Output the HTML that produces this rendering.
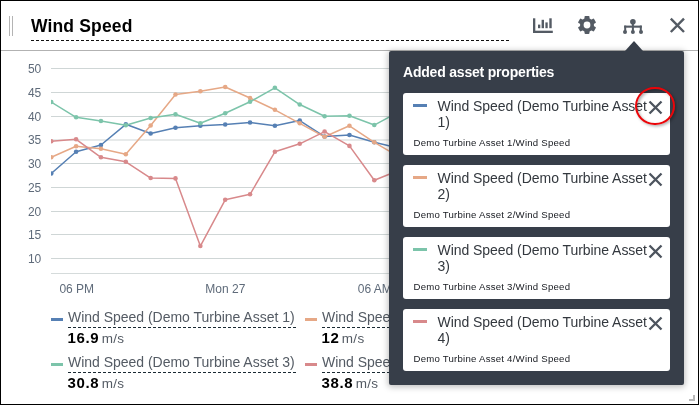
<!DOCTYPE html>
<html><head><meta charset="utf-8"><title>Wind Speed</title>
<style>
html,body{margin:0;padding:0;}
body{width:699px;height:405px;position:relative;overflow:hidden;background:#fff;font-family:"Liberation Sans",sans-serif;}
.frame{position:absolute;left:0;top:0;width:697px;height:403px;border:1px solid #000;z-index:50;pointer-events:none}
.grip{position:absolute;left:9px;top:16px;width:2px;height:20px;border-left:1px solid #b4b4b4;border-right:1px solid #b4b4b4}
.title{position:absolute;left:31px;top:13px;width:478px;height:27px;border-bottom:1px dashed #000;font-weight:bold;font-size:17.5px;line-height:27px;color:#000;letter-spacing:0.15px;white-space:nowrap}
.dash{position:absolute;left:31px;top:40px;width:478px;height:1px;background:repeating-linear-gradient(90deg,#111 0 3px,transparent 3px 5px)}
.hr{position:absolute;left:1px;top:50px;width:697px;height:1px;background:#b2b2b2}
.chart{position:absolute;left:0;top:0}
.ax{font-family:"Liberation Sans",sans-serif;font-size:12px;fill:#5f6b7a}
.ico{position:absolute}
.lg{position:absolute;white-space:nowrap;color:#545b64;font-size:14px;line-height:20px}
.lg i{position:absolute;left:0;top:10.5px;width:12px;height:3px}
.lg .ll{position:absolute;left:17px;top:-0.5px;height:20px;letter-spacing:-0.02px}
.lg .ll:after{content:"";position:absolute;left:0;right:-1px;top:20.5px;height:1px;background:repeating-linear-gradient(90deg,#1a2a33 0 3px,transparent 3px 5px)}
.lg .lv{position:absolute;left:16.4px;top:20.5px;height:20px;line-height:20px}
.lg .lv b{font-size:15px;color:#000;letter-spacing:0.7px}
.lg .lv span{font-size:13.5px;color:#545b64;letter-spacing:0.3px;margin-left:-1.6px}
.panel{position:absolute;left:389px;top:51px;width:295px;height:334px;background:#373e49;border-radius:2px;box-shadow:0 1px 6px 1px rgba(0,0,0,.26)}
.panel:before{content:"";position:absolute;left:236px;top:-10px;border-left:9px solid transparent;border-right:9px solid transparent;border-bottom:10px solid #373e49}
.ph{position:absolute;left:14px;top:12px;color:#fff;font-weight:bold;font-size:14px;line-height:18px;letter-spacing:-0.2px;white-space:nowrap}
.card{position:absolute;left:14px;width:267px;height:62px;background:#fff;border-radius:3px}
.card i{position:absolute;left:10px;top:11px;width:14px;height:3px}
.ct{position:absolute;left:34.5px;top:5px;width:215px;font-size:14px;line-height:16px;color:#33383e;letter-spacing:-0.05px}
.cs{position:absolute;left:10.5px;top:44px;font-size:9.6px;line-height:12px;color:#16191f;white-space:nowrap;letter-spacing:0.24px}
.cx{position:absolute;left:245px;top:6.5px}
.ring{position:absolute;left:635.1px;top:86.7px;width:35.6px;height:34.6px;border:2.3px solid #ea0408;border-radius:50%;box-shadow:1.5px 1.5px 3px rgba(0,0,0,.3),inset 1.5px 1.5px 3px rgba(0,0,0,.3)}
.rs{position:absolute;left:689px;top:395px;width:4px;height:4px;border-right:2px solid #b9b9b9;border-bottom:2px solid #b9b9b9}
</style></head><body>
<div class="grip"></div>
<div class="title" style="border:0">Wind Speed</div><div class="dash"></div>
<div class="hr"></div>
<svg class="chart" width="699" height="405" viewBox="0 0 699 405">
<rect x="51" y="68.00" width="633" height="1" fill="#cfd6d6"/>
<rect x="51" y="92.00" width="633" height="1" fill="#cfd6d6"/>
<rect x="51" y="116.00" width="633" height="1" fill="#cfd6d6"/>
<rect x="51" y="139.50" width="633" height="1" fill="#cfd6d6"/>
<rect x="51" y="163.00" width="633" height="1" fill="#cfd6d6"/>
<rect x="51" y="187.00" width="633" height="1" fill="#cfd6d6"/>
<rect x="51" y="211.00" width="633" height="1" fill="#cfd6d6"/>
<rect x="51" y="234.00" width="633" height="1" fill="#cfd6d6"/>
<rect x="51" y="258.00" width="633" height="1" fill="#cfd6d6"/>
<rect x="51" y="273" width="633" height="1" fill="#d5dbdb"/>
<clipPath id="cp"><rect x="51" y="55" width="640" height="218"/></clipPath><g clip-path="url(#cp)">
<polyline points="51.25,173.55 76.10,151.70 100.95,145.00 125.80,124.30 150.65,133.55 175.50,127.80 200.35,125.80 225.20,124.55 250.05,122.55 274.90,125.80 299.75,120.55 324.60,136.55 349.45,135.05 374.30,142.30 399.15,148.30" fill="none" stroke="#5680b4" stroke-width="1.5" stroke-linejoin="round"/>
<circle cx="51.25" cy="173.55" r="2.3" fill="#5680b4"/><circle cx="76.10" cy="151.70" r="2.3" fill="#5680b4"/><circle cx="100.95" cy="145.00" r="2.3" fill="#5680b4"/><circle cx="125.80" cy="124.30" r="2.3" fill="#5680b4"/><circle cx="150.65" cy="133.55" r="2.3" fill="#5680b4"/><circle cx="175.50" cy="127.80" r="2.3" fill="#5680b4"/><circle cx="200.35" cy="125.80" r="2.3" fill="#5680b4"/><circle cx="225.20" cy="124.55" r="2.3" fill="#5680b4"/><circle cx="250.05" cy="122.55" r="2.3" fill="#5680b4"/><circle cx="274.90" cy="125.80" r="2.3" fill="#5680b4"/><circle cx="299.75" cy="120.55" r="2.3" fill="#5680b4"/><circle cx="324.60" cy="136.55" r="2.3" fill="#5680b4"/><circle cx="349.45" cy="135.05" r="2.3" fill="#5680b4"/><circle cx="374.30" cy="142.30" r="2.3" fill="#5680b4"/><circle cx="399.15" cy="148.30" r="2.3" fill="#5680b4"/>
<polyline points="51.25,157.30 76.10,146.30 100.95,148.80 125.80,154.20 150.65,125.55 175.50,94.55 200.35,91.30 225.20,87.05 250.05,98.05 274.90,109.80 299.75,123.30 324.60,136.80 349.45,125.80 374.30,142.30 399.15,156.80" fill="none" stroke="#e6a886" stroke-width="1.5" stroke-linejoin="round"/>
<circle cx="51.25" cy="157.30" r="2.3" fill="#e6a886"/><circle cx="76.10" cy="146.30" r="2.3" fill="#e6a886"/><circle cx="100.95" cy="148.80" r="2.3" fill="#e6a886"/><circle cx="125.80" cy="154.20" r="2.3" fill="#e6a886"/><circle cx="150.65" cy="125.55" r="2.3" fill="#e6a886"/><circle cx="175.50" cy="94.55" r="2.3" fill="#e6a886"/><circle cx="200.35" cy="91.30" r="2.3" fill="#e6a886"/><circle cx="225.20" cy="87.05" r="2.3" fill="#e6a886"/><circle cx="250.05" cy="98.05" r="2.3" fill="#e6a886"/><circle cx="274.90" cy="109.80" r="2.3" fill="#e6a886"/><circle cx="299.75" cy="123.30" r="2.3" fill="#e6a886"/><circle cx="324.60" cy="136.80" r="2.3" fill="#e6a886"/><circle cx="349.45" cy="125.80" r="2.3" fill="#e6a886"/><circle cx="374.30" cy="142.30" r="2.3" fill="#e6a886"/><circle cx="399.15" cy="156.80" r="2.3" fill="#e6a886"/>
<polyline points="51.25,102.05 76.10,117.30 100.95,121.05 125.80,125.30 150.65,118.05 175.50,114.30 200.35,123.30 225.20,113.30 250.05,101.80 274.90,87.80 299.75,104.55 324.60,116.30 349.45,115.80 374.30,125.05 399.15,111.60" fill="none" stroke="#7cc4aa" stroke-width="1.5" stroke-linejoin="round"/>
<circle cx="51.25" cy="102.05" r="2.3" fill="#7cc4aa"/><circle cx="76.10" cy="117.30" r="2.3" fill="#7cc4aa"/><circle cx="100.95" cy="121.05" r="2.3" fill="#7cc4aa"/><circle cx="125.80" cy="125.30" r="2.3" fill="#7cc4aa"/><circle cx="150.65" cy="118.05" r="2.3" fill="#7cc4aa"/><circle cx="175.50" cy="114.30" r="2.3" fill="#7cc4aa"/><circle cx="200.35" cy="123.30" r="2.3" fill="#7cc4aa"/><circle cx="225.20" cy="113.30" r="2.3" fill="#7cc4aa"/><circle cx="250.05" cy="101.80" r="2.3" fill="#7cc4aa"/><circle cx="274.90" cy="87.80" r="2.3" fill="#7cc4aa"/><circle cx="299.75" cy="104.55" r="2.3" fill="#7cc4aa"/><circle cx="324.60" cy="116.30" r="2.3" fill="#7cc4aa"/><circle cx="349.45" cy="115.80" r="2.3" fill="#7cc4aa"/><circle cx="374.30" cy="125.05" r="2.3" fill="#7cc4aa"/><circle cx="399.15" cy="111.60" r="2.3" fill="#7cc4aa"/>
<polyline points="51.25,141.30 76.10,139.30 100.95,157.30 125.80,161.80 150.65,178.05 175.50,178.40 200.35,246.05 225.20,199.80 250.05,194.30 274.90,151.80 299.75,143.80 324.60,131.55 349.45,145.90 374.30,180.30 399.15,170.30" fill="none" stroke="#d8898b" stroke-width="1.5" stroke-linejoin="round"/>
<circle cx="51.25" cy="141.30" r="2.3" fill="#d8898b"/><circle cx="76.10" cy="139.30" r="2.3" fill="#d8898b"/><circle cx="100.95" cy="157.30" r="2.3" fill="#d8898b"/><circle cx="125.80" cy="161.80" r="2.3" fill="#d8898b"/><circle cx="150.65" cy="178.05" r="2.3" fill="#d8898b"/><circle cx="175.50" cy="178.40" r="2.3" fill="#d8898b"/><circle cx="200.35" cy="246.05" r="2.3" fill="#d8898b"/><circle cx="225.20" cy="199.80" r="2.3" fill="#d8898b"/><circle cx="250.05" cy="194.30" r="2.3" fill="#d8898b"/><circle cx="274.90" cy="151.80" r="2.3" fill="#d8898b"/><circle cx="299.75" cy="143.80" r="2.3" fill="#d8898b"/><circle cx="324.60" cy="131.55" r="2.3" fill="#d8898b"/><circle cx="349.45" cy="145.90" r="2.3" fill="#d8898b"/><circle cx="374.30" cy="180.30" r="2.3" fill="#d8898b"/><circle cx="399.15" cy="170.30" r="2.3" fill="#d8898b"/>
</g>
<text x="41.3" y="72.8" text-anchor="end" class="ax">50</text>
<text x="41.3" y="96.8" text-anchor="end" class="ax">45</text>
<text x="41.3" y="120.8" text-anchor="end" class="ax">40</text>
<text x="41.3" y="144.3" text-anchor="end" class="ax">35</text>
<text x="41.3" y="167.8" text-anchor="end" class="ax">30</text>
<text x="41.3" y="191.8" text-anchor="end" class="ax">25</text>
<text x="41.3" y="215.8" text-anchor="end" class="ax">20</text>
<text x="41.3" y="238.8" text-anchor="end" class="ax">15</text>
<text x="41.3" y="262.8" text-anchor="end" class="ax">10</text>
<text x="76.75" y="292.5" text-anchor="middle" class="ax">06 PM</text>
<text x="225.3" y="292.5" text-anchor="middle" class="ax">Mon 27</text>
<text x="374.8" y="292.5" text-anchor="middle" class="ax">06 AM</text>
</svg>

<svg class="ico" style="left:530px;top:14.4px" width="26" height="22" viewBox="0 0 26 22"><g fill="#545b64"><rect x="3" y="4.3" width="2.3" height="14.7"/><rect x="3" y="16.7" width="19.8" height="2.3"/><rect x="8" y="10.6" width="2.3" height="3.6"/><rect x="11.6" y="5.8" width="2.4" height="8.4"/><rect x="15.4" y="8.4" width="2.3" height="5.8"/><rect x="19.3" y="4.3" width="2.4" height="9.9"/></g></svg>
<svg class="ico" style="left:575px;top:13px" width="24" height="24" viewBox="-12 -12 24 24"><g fill="#545b64"><circle r="7"/><rect x="-2.5" y="-8.9" width="5" height="17.8" rx="0.8"/><rect x="-2.5" y="-9.15" width="5" height="18.3" rx="0.8" transform="rotate(60)"/><rect x="-2.5" y="-9.15" width="5" height="18.3" rx="0.8" transform="rotate(120)"/></g><circle r="3.4" fill="#fff"/></svg>
<svg class="ico" style="left:620px;top:14px" width="26" height="24" viewBox="0 0 26 24"><g fill="#545b64"><circle cx="12.9" cy="7.7" r="2.8"/><rect x="11.9" y="8" width="2" height="10"/><rect x="4.2" y="11.6" width="17.6" height="2.1"/><rect x="4.2" y="11.6" width="2" height="6.2"/><rect x="19.8" y="11.6" width="2" height="6.2"/><circle cx="5" cy="18" r="2"/><circle cx="12.9" cy="18" r="2"/><circle cx="21" cy="18" r="2"/></g></svg>
<svg class="ico" style="left:668px;top:16px" width="19" height="19" viewBox="0 0 19 19"><path d="M2.8 2.6 L16 16 M16 2.6 L2.8 16" stroke="#545b64" stroke-width="2.4" fill="none"/></svg>
<div class="lg" style="left:51px;top:307px"><i style="background:#5680b4"></i><span class="ll">Wind Speed (Demo Turbine Asset 1)</span><div class="lv"><b>16.9</b> <span>m/s</span></div></div>
<div class="lg" style="left:305px;top:307px"><i style="background:#e6a886"></i><span class="ll">Wind Speed (Demo Turbine Asset 2)</span><div class="lv"><b>12</b> <span>m/s</span></div></div>
<div class="lg" style="left:51px;top:352px"><i style="background:#7cc4aa"></i><span class="ll">Wind Speed (Demo Turbine Asset 3)</span><div class="lv"><b>30.8</b> <span>m/s</span></div></div>
<div class="lg" style="left:305px;top:352px"><i style="background:#d8898b"></i><span class="ll">Wind Speed (Demo Turbine Asset 4)</span><div class="lv"><b>38.8</b> <span>m/s</span></div></div>

<div class="panel"><div class="ph">Added asset properties</div>
<div class="card" style="top:42px"><i style="background:#5680b4"></i><div class="ct">Wind Speed (Demo Turbine Asset 1)</div><div class="cs">Demo Turbine Asset 1/Wind Speed</div><svg class="cx" width="15" height="15" viewBox="0 0 15 15"><path d="M1.5 1.5 L13.5 13.5 M13.5 1.5 L1.5 13.5" stroke="#4d545e" stroke-width="2.3" fill="none"/></svg></div>
<div class="card" style="top:114px"><i style="background:#e6a886"></i><div class="ct">Wind Speed (Demo Turbine Asset 2)</div><div class="cs">Demo Turbine Asset 2/Wind Speed</div><svg class="cx" width="15" height="15" viewBox="0 0 15 15"><path d="M1.5 1.5 L13.5 13.5 M13.5 1.5 L1.5 13.5" stroke="#4d545e" stroke-width="2.3" fill="none"/></svg></div>
<div class="card" style="top:186px"><i style="background:#7cc4aa"></i><div class="ct">Wind Speed (Demo Turbine Asset 3)</div><div class="cs">Demo Turbine Asset 3/Wind Speed</div><svg class="cx" width="15" height="15" viewBox="0 0 15 15"><path d="M1.5 1.5 L13.5 13.5 M13.5 1.5 L1.5 13.5" stroke="#4d545e" stroke-width="2.3" fill="none"/></svg></div>
<div class="card" style="top:258px"><i style="background:#d8898b"></i><div class="ct">Wind Speed (Demo Turbine Asset 4)</div><div class="cs">Demo Turbine Asset 4/Wind Speed</div><svg class="cx" width="15" height="15" viewBox="0 0 15 15"><path d="M1.5 1.5 L13.5 13.5 M13.5 1.5 L1.5 13.5" stroke="#4d545e" stroke-width="2.3" fill="none"/></svg></div>
</div>
<div class="ring"></div>
<div class="rs"></div>
<div class="frame"></div>
</body></html>
